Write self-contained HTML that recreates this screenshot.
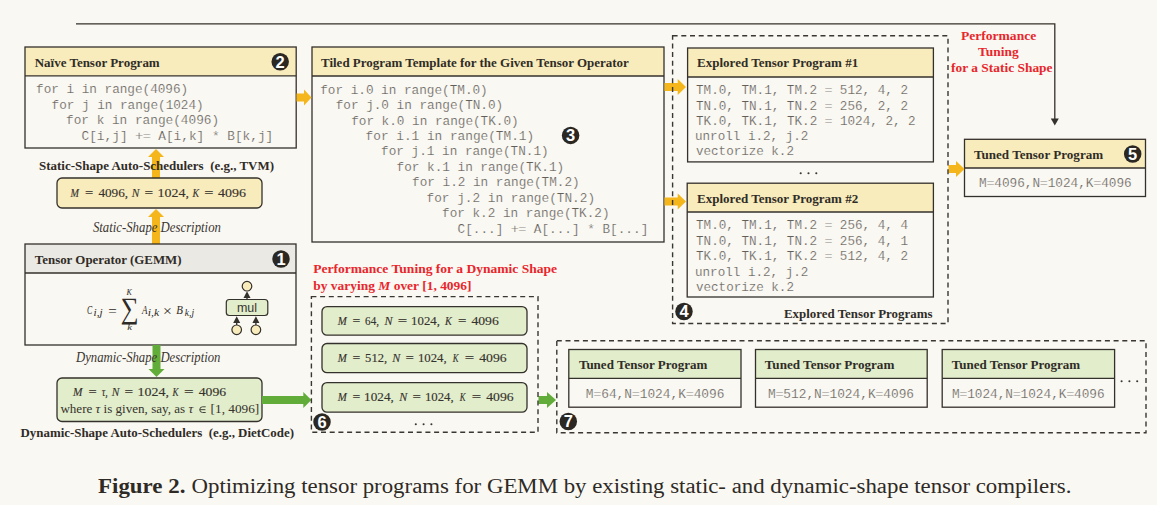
<!DOCTYPE html>
<html><head><meta charset="utf-8"><style>
html,body{margin:0;padding:0;background:#faf8f3;overflow:hidden;width:1157px;height:505px;}
svg{display:block;}
</style></head><body>
<svg width="1157" height="505" viewBox="0 0 1157 505">
<rect width="1157" height="505" fill="#faf8f3"/>
<path d="M76,23.8 H1054.8 V119.5" fill="none" stroke="#34302b" stroke-width="1.3"/>
<polygon points="1050.8,118.5 1058.8,118.5 1054.8,125.5" fill="#34302b"/>
<rect x="25" y="47" width="271.20" height="28.90" fill="#f9ecbc"/>
<rect x="25" y="75.9" width="271.20" height="72.10" fill="#faf8f3"/>
<line x1="25" y1="75.9" x2="296.2" y2="75.9" stroke="#34302b" stroke-width="1.3"/>
<rect x="25" y="47" width="271.20" height="101.00" fill="none" stroke="#34302b" stroke-width="1.3"/>
<circle cx="280.2" cy="61.7" r="8.75" fill="#2b2824"/>
<text x="280.2" y="67.60" font-family='"Liberation Sans", sans-serif' font-size="16.5" font-weight="bold" fill="#fff" text-anchor="middle">2</text>
<polygon points="152.0,178 152.0,157 148,157 156,149 164,157 160.0,157 160.0,178" fill="#f4b61a"/>
<rect x="57" y="178" width="205.00" height="30.00" rx="5" fill="#f9ecbc" stroke="#34302b" stroke-width="1.3"/>
<polygon points="152.0,244 152.0,217 148,217 156,209 164,217 160.0,217 160.0,244" fill="#f4b61a"/>
<rect x="25" y="244" width="271.00" height="29.00" fill="#ebe9e4"/>
<rect x="25" y="273" width="271.00" height="72.00" fill="#faf8f3"/>
<line x1="25" y1="273" x2="296" y2="273" stroke="#34302b" stroke-width="1.3"/>
<rect x="25" y="244" width="271.00" height="101.00" fill="none" stroke="#34302b" stroke-width="1.3"/>
<circle cx="281" cy="259" r="8.75" fill="#2b2824"/>
<text x="281" y="264.90" font-family='"Liberation Sans", sans-serif' font-size="16.5" font-weight="bold" fill="#fff" text-anchor="middle">1</text>
<circle cx="247" cy="286.2" r="4.8" fill="#f9ecbc" stroke="#34302b" stroke-width="1.2"/>
<line x1="247" y1="296" x2="247" y2="299.5" stroke="#34302b" stroke-width="1.3"/>
<polygon points="243.5,298 250.5,298 247,291.3" fill="#34302b"/>
<rect x="226.3" y="299.5" width="41.50" height="16.00" rx="3" fill="#e1edcb" stroke="#34302b" stroke-width="1.2"/>
<text x="247" y="311.7" font-family='"Liberation Sans", sans-serif' font-size="12.5" fill="#3a3631" text-anchor="middle">mul</text>
<circle cx="236.7" cy="329.8" r="4.8" fill="#f9ecbc" stroke="#34302b" stroke-width="1.2"/>
<line x1="236.7" y1="322" x2="236.7" y2="325" stroke="#34302b" stroke-width="1.3"/>
<polygon points="233.2,323 240.2,323 236.7,316.2" fill="#34302b"/>
<circle cx="255.9" cy="329.8" r="4.8" fill="#f9ecbc" stroke="#34302b" stroke-width="1.2"/>
<line x1="255.9" y1="322" x2="255.9" y2="325" stroke="#34302b" stroke-width="1.3"/>
<polygon points="252.4,323 259.4,323 255.9,316.2" fill="#34302b"/>
<polygon points="152.5,345 152.5,369 148.5,369 156.5,377 164.5,369 160.5,369 160.5,345" fill="#62ad3a"/>
<rect x="57" y="378" width="205.00" height="43.50" rx="5" fill="#e1edcb" stroke="#34302b" stroke-width="1.3"/>
<path d="M205.7,406.8 H202.6 A2.85,2.85 0 0 0 202.6,412.5 H205.7 M199.8,409.65 H205.4" fill="none" stroke="#36322d" stroke-width="0.9"/>
<polygon points="262,396.0 303.3,396.0 303.3,392 311.4,400 303.3,408 303.3,404.0 262,404.0" fill="#62ad3a"/>
<rect x="312" y="47" width="352.00" height="29.00" fill="#f9ecbc"/>
<rect x="312" y="76" width="352.00" height="166.00" fill="#faf8f3"/>
<line x1="312" y1="76" x2="664" y2="76" stroke="#34302b" stroke-width="1.3"/>
<rect x="312" y="47" width="352.00" height="195.00" fill="none" stroke="#34302b" stroke-width="1.3"/>
<circle cx="570.6" cy="135.4" r="8.75" fill="#2b2824"/>
<text x="570.6" y="141.30" font-family='"Liberation Sans", sans-serif' font-size="16.5" font-weight="bold" fill="#fff" text-anchor="middle">3</text>
<polygon points="296.5,93.5 304,93.5 304,89.5 311.5,97.5 304,105.5 304,101.5 296.5,101.5" fill="#f4b61a"/>
<rect x="687.6" y="48" width="245.80" height="29.00" fill="#f9ecbc"/>
<rect x="687.6" y="77" width="245.80" height="84.90" fill="#faf8f3"/>
<line x1="687.6" y1="77" x2="933.4" y2="77" stroke="#34302b" stroke-width="1.3"/>
<rect x="687.6" y="48" width="245.80" height="113.90" fill="none" stroke="#34302b" stroke-width="1.3"/>
<circle cx="800.70" cy="173.2" r="1.05" fill="#3a3631"/>
<circle cx="808.50" cy="173.2" r="1.05" fill="#3a3631"/>
<circle cx="816.30" cy="173.2" r="1.05" fill="#3a3631"/>
<rect x="687.2" y="183.2" width="246.20" height="28.80" fill="#f9ecbc"/>
<rect x="687.2" y="212" width="246.20" height="85.00" fill="#faf8f3"/>
<line x1="687.2" y1="212" x2="933.4" y2="212" stroke="#34302b" stroke-width="1.3"/>
<rect x="687.2" y="183.2" width="246.20" height="113.80" fill="none" stroke="#34302b" stroke-width="1.3"/>
<circle cx="684" cy="311.5" r="8.75" fill="#2b2824"/>
<text x="684" y="317.40" font-family='"Liberation Sans", sans-serif' font-size="16.5" font-weight="bold" fill="#fff" text-anchor="middle">4</text>
<polygon points="664.5,83.0 677.7,83.0 677.7,79 686,87 677.7,95 677.7,91.0 664.5,91.0" fill="#f4b61a"/>
<polygon points="664.5,197.5 677.7,197.5 677.7,193.5 686,201.5 677.7,209.5 677.7,205.5 664.5,205.5" fill="#f4b61a"/>
<rect x="964.5" y="139.3" width="181.00" height="28.70" fill="#f9ecbc"/>
<rect x="964.5" y="168" width="181.00" height="28.50" fill="#faf8f3"/>
<line x1="964.5" y1="168" x2="1145.5" y2="168" stroke="#34302b" stroke-width="1.3"/>
<rect x="964.5" y="139.3" width="181.00" height="57.20" fill="none" stroke="#34302b" stroke-width="1.3"/>
<circle cx="1132.7" cy="154" r="8.75" fill="#2b2824"/>
<text x="1132.7" y="159.90" font-family='"Liberation Sans", sans-serif' font-size="16.5" font-weight="bold" fill="#fff" text-anchor="middle">5</text>
<polygon points="948.5,164.9 956,164.9 956,160.9 964.5,168.9 956,176.9 956,172.9 948.5,172.9" fill="#f4b61a"/>
<rect x="322" y="306.6" width="205.00" height="28.60" rx="5" fill="#e1edcb" stroke="#34302b" stroke-width="1.3"/>
<rect x="322" y="343.5" width="205.00" height="29.20" rx="5" fill="#e1edcb" stroke="#34302b" stroke-width="1.3"/>
<rect x="322" y="382.6" width="205.00" height="29.60" rx="5" fill="#e1edcb" stroke="#34302b" stroke-width="1.3"/>
<circle cx="322" cy="422" r="8.75" fill="#2b2824"/>
<text x="322" y="427.90" font-family='"Liberation Sans", sans-serif' font-size="16.5" font-weight="bold" fill="#fff" text-anchor="middle">6</text>
<circle cx="415.80" cy="424.2" r="1.05" fill="#3a3631"/>
<circle cx="423.60" cy="424.2" r="1.05" fill="#3a3631"/>
<circle cx="431.40" cy="424.2" r="1.05" fill="#3a3631"/>
<polygon points="538.5,396.0 547,396.0 547,392 556,400 547,408 547,404.0 538.5,404.0" fill="#62ad3a"/>
<rect x="568.8" y="349.5" width="172.20" height="28.90" fill="#e1edcb"/>
<rect x="568.8" y="378.4" width="172.20" height="28.80" fill="#faf8f3"/>
<line x1="568.8" y1="378.4" x2="741" y2="378.4" stroke="#34302b" stroke-width="1.3"/>
<rect x="568.8" y="349.5" width="172.20" height="57.70" fill="none" stroke="#34302b" stroke-width="1.3"/>
<rect x="755.5" y="349.5" width="171.70" height="28.90" fill="#e1edcb"/>
<rect x="755.5" y="378.4" width="171.70" height="28.80" fill="#faf8f3"/>
<line x1="755.5" y1="378.4" x2="927.2" y2="378.4" stroke="#34302b" stroke-width="1.3"/>
<rect x="755.5" y="349.5" width="171.70" height="57.70" fill="none" stroke="#34302b" stroke-width="1.3"/>
<rect x="942.2" y="349.5" width="172.40" height="28.90" fill="#e1edcb"/>
<rect x="942.2" y="378.4" width="172.40" height="28.80" fill="#faf8f3"/>
<line x1="942.2" y1="378.4" x2="1114.6" y2="378.4" stroke="#34302b" stroke-width="1.3"/>
<rect x="942.2" y="349.5" width="172.40" height="57.70" fill="none" stroke="#34302b" stroke-width="1.3"/>
<circle cx="568.3" cy="421.5" r="8.75" fill="#2b2824"/>
<text x="568.3" y="427.40" font-family='"Liberation Sans", sans-serif' font-size="16.5" font-weight="bold" fill="#fff" text-anchor="middle">7</text>
<circle cx="1121.60" cy="381.3" r="1.05" fill="#3a3631"/>
<circle cx="1129.40" cy="381.3" r="1.05" fill="#3a3631"/>
<circle cx="1137.20" cy="381.3" r="1.05" fill="#3a3631"/>
<rect x="672.6" y="35.8" width="275.40" height="287.70" fill="none" stroke="#3a3631" stroke-width="1.4" stroke-dasharray="5 3.7"/>
<rect x="311.4" y="296.6" width="226.60" height="135.60" fill="none" stroke="#3a3631" stroke-width="1.4" stroke-dasharray="5 3.7"/>
<rect x="556.8" y="340.8" width="589.20" height="92.00" fill="none" stroke="#3a3631" stroke-width="1.4" stroke-dasharray="5 3.7"/>
<text id="naive_t" x="34.70" y="66.80" font-family='"Liberation Serif", serif' font-size="13.4" font-weight="bold" font-style="normal" fill="#302c27" textLength="125.01" lengthAdjust="spacingAndGlyphs">Naïve Tensor Program</text>
<text id="naive_c0" x="36.10" y="93.20" font-family='"Liberation Mono", monospace' font-size="12.7" font-weight="normal" font-style="normal" fill="#625e58" stroke="#faf8f3" stroke-width="0.2" textLength="152.08" lengthAdjust="spacingAndGlyphs">for&#160;i&#160;in&#160;range(4096)</text>
<text id="naive_c1" x="51.58" y="108.65" font-family='"Liberation Mono", monospace' font-size="12.7" font-weight="normal" font-style="normal" fill="#625e58" stroke="#faf8f3" stroke-width="0.2" textLength="152.08" lengthAdjust="spacingAndGlyphs">for&#160;j&#160;in&#160;range(1024)</text>
<text id="naive_c2" x="66.06" y="124.10" font-family='"Liberation Mono", monospace' font-size="12.7" font-weight="normal" font-style="normal" fill="#625e58" stroke="#faf8f3" stroke-width="0.2" textLength="153.08" lengthAdjust="spacingAndGlyphs">for&#160;k&#160;in&#160;range(4096)</text>
<text id="naive_c3" x="81.54" y="139.55" font-family='"Liberation Mono", monospace' font-size="12.7" font-weight="normal" font-style="normal" fill="#625e58" stroke="#faf8f3" stroke-width="0.2" textLength="191.74" lengthAdjust="spacingAndGlyphs">C[i,j]&#160;+=&#160;A[i,k]&#160;*&#160;B[k,j]</text>
<text id="ss_sched" x="39.00" y="169.50" font-family='"Liberation Serif", serif' font-size="13.4" font-weight="bold" font-style="normal" fill="#302c27" textLength="235.03" lengthAdjust="spacingAndGlyphs">Static-Shape Auto-Schedulers&#160; (e.g., TVM)</text>
<text id="m4096_0" x="70.60" y="196.80" font-family='"Liberation Serif", serif' font-size="13.5" font-weight="normal" font-style="italic" fill="#36322d" stroke="#36322d" stroke-width="0.15" textLength="8.45" lengthAdjust="spacingAndGlyphs">M</text>
<text id="m4096_1" x="85.00" y="196.80" font-family='"Liberation Serif", serif' font-size="13.5" font-weight="normal" font-style="normal" fill="#36322d" stroke="#36322d" stroke-width="0.15" textLength="8.22" lengthAdjust="spacingAndGlyphs">=</text>
<text id="m4096_2" x="98.40" y="196.80" font-family='"Liberation Serif", serif' font-size="13.5" font-weight="normal" font-style="normal" fill="#36322d" stroke="#36322d" stroke-width="0.15" textLength="29.77" lengthAdjust="spacingAndGlyphs">4096,</text>
<text id="m4096_3" x="131.80" y="196.80" font-family='"Liberation Serif", serif' font-size="13.5" font-weight="normal" font-style="italic" fill="#36322d" stroke="#36322d" stroke-width="0.15" textLength="7.62" lengthAdjust="spacingAndGlyphs">N</text>
<text id="m4096_4" x="144.60" y="196.80" font-family='"Liberation Serif", serif' font-size="13.5" font-weight="normal" font-style="normal" fill="#36322d" stroke="#36322d" stroke-width="0.15" textLength="8.62" lengthAdjust="spacingAndGlyphs">=</text>
<text id="m4096_5" x="157.50" y="196.80" font-family='"Liberation Serif", serif' font-size="13.5" font-weight="normal" font-style="normal" fill="#36322d" stroke="#36322d" stroke-width="0.15" textLength="31.38" lengthAdjust="spacingAndGlyphs">1024,</text>
<text id="m4096_6" x="192.60" y="196.80" font-family='"Liberation Serif", serif' font-size="13.5" font-weight="normal" font-style="italic" fill="#36322d" stroke="#36322d" stroke-width="0.15" textLength="6.62" lengthAdjust="spacingAndGlyphs">K</text>
<text id="m4096_7" x="204.20" y="196.80" font-family='"Liberation Serif", serif' font-size="13.5" font-weight="normal" font-style="normal" fill="#36322d" stroke="#36322d" stroke-width="0.15" textLength="9.22" lengthAdjust="spacingAndGlyphs">=</text>
<text id="m4096_8" x="218.00" y="196.80" font-family='"Liberation Serif", serif' font-size="13.5" font-weight="normal" font-style="normal" fill="#36322d" stroke="#36322d" stroke-width="0.15" textLength="28.00" lengthAdjust="spacingAndGlyphs">4096</text>
<text id="ss_desc" x="92.90" y="232.00" font-family='"Liberation Serif", serif' font-size="13.7" font-weight="normal" font-style="italic" fill="#3a3631" textLength="128.03" lengthAdjust="spacingAndGlyphs">Static-Shape Description</text>
<text id="op_t" x="34.80" y="264.00" font-family='"Liberation Serif", serif' font-size="13.4" font-weight="bold" font-style="normal" fill="#302c27" textLength="146.82" lengthAdjust="spacingAndGlyphs">Tensor Operator (GEMM)</text>
<text id="f_C" x="87.10" y="313.50" font-family='"Liberation Serif", serif' font-size="13.5" font-weight="normal" font-style="italic" fill="#2e2a25" textLength="5.22" lengthAdjust="spacingAndGlyphs">C</text>
<text id="f_ij" x="93.60" y="316.00" font-family='"Liberation Serif", serif' font-size="9.5" font-weight="normal" font-style="italic" fill="#2e2a25" textLength="9.06" lengthAdjust="spacingAndGlyphs">i,j</text>
<text id="f_eq" x="108.20" y="316.30" font-family='"Liberation Serif", serif' font-size="14" font-weight="normal" font-style="normal" fill="#2e2a25" textLength="8.51" lengthAdjust="spacingAndGlyphs">=</text>
<text id="f_sum" x="120.50" y="318.20" font-family='"Liberation Serif", serif' font-size="29.5" font-weight="normal" font-style="normal" fill="#2e2a25" textLength="18.03" lengthAdjust="spacingAndGlyphs">∑</text>
<text id="f_K" x="126.50" y="295.00" font-family='"Liberation Serif", serif' font-size="8" font-weight="normal" font-style="italic" fill="#2e2a25" textLength="5.34" lengthAdjust="spacingAndGlyphs">K</text>
<text id="f_k" x="127.30" y="329.50" font-family='"Liberation Serif", serif' font-size="8" font-weight="normal" font-style="italic" fill="#2e2a25" textLength="4.76" lengthAdjust="spacingAndGlyphs">k</text>
<text id="f_A" x="141.90" y="313.50" font-family='"Liberation Serif", serif' font-size="13.5" font-weight="normal" font-style="italic" fill="#2e2a25" textLength="5.45" lengthAdjust="spacingAndGlyphs">A</text>
<text id="f_ik" x="147.80" y="316.00" font-family='"Liberation Serif", serif' font-size="9.5" font-weight="normal" font-style="italic" fill="#2e2a25" textLength="11.43" lengthAdjust="spacingAndGlyphs">i,k</text>
<text id="f_x" x="163.10" y="315.50" font-family='"Liberation Serif", serif' font-size="15" font-weight="normal" font-style="normal" fill="#2e2a25" textLength="8.87" lengthAdjust="spacingAndGlyphs">×</text>
<text id="f_B" x="176.20" y="313.50" font-family='"Liberation Serif", serif' font-size="13.5" font-weight="normal" font-style="italic" fill="#2e2a25" textLength="6.65" lengthAdjust="spacingAndGlyphs">B</text>
<text id="f_kj" x="184.80" y="316.00" font-family='"Liberation Serif", serif' font-size="9.5" font-weight="normal" font-style="italic" fill="#2e2a25" textLength="9.23" lengthAdjust="spacingAndGlyphs">k,j</text>
<text id="ds_desc" x="76.00" y="362.00" font-family='"Liberation Serif", serif' font-size="13.7" font-weight="normal" font-style="italic" fill="#3a3631" textLength="144.47" lengthAdjust="spacingAndGlyphs">Dynamic-Shape Description</text>
<text id="mtau_0" x="73.00" y="395.90" font-family='"Liberation Serif", serif' font-size="13.5" font-weight="normal" font-style="italic" fill="#36322d" stroke="#36322d" stroke-width="0.15" textLength="9.45" lengthAdjust="spacingAndGlyphs">M</text>
<text id="mtau_1" x="88.40" y="395.90" font-family='"Liberation Serif", serif' font-size="13.5" font-weight="normal" font-style="normal" fill="#36322d" stroke="#36322d" stroke-width="0.15" textLength="8.22" lengthAdjust="spacingAndGlyphs">=</text>
<text id="mtau_2" x="101.80" y="395.90" font-family='"Liberation Serif", serif' font-size="13.5" font-weight="normal" font-style="italic" fill="#36322d" stroke="#36322d" stroke-width="0.15" textLength="6.01" lengthAdjust="spacingAndGlyphs">τ,</text>
<text id="mtau_3" x="111.80" y="395.90" font-family='"Liberation Serif", serif' font-size="13.5" font-weight="normal" font-style="italic" fill="#36322d" stroke="#36322d" stroke-width="0.15" textLength="7.62" lengthAdjust="spacingAndGlyphs">N</text>
<text id="mtau_4" x="124.60" y="395.90" font-family='"Liberation Serif", serif' font-size="13.5" font-weight="normal" font-style="normal" fill="#36322d" stroke="#36322d" stroke-width="0.15" textLength="8.63" lengthAdjust="spacingAndGlyphs">=</text>
<text id="mtau_5" x="137.50" y="395.90" font-family='"Liberation Serif", serif' font-size="13.5" font-weight="normal" font-style="normal" fill="#36322d" stroke="#36322d" stroke-width="0.15" textLength="31.38" lengthAdjust="spacingAndGlyphs">1024,</text>
<text id="mtau_6" x="172.60" y="395.90" font-family='"Liberation Serif", serif' font-size="13.5" font-weight="normal" font-style="italic" fill="#36322d" stroke="#36322d" stroke-width="0.15" textLength="6.02" lengthAdjust="spacingAndGlyphs">K</text>
<text id="mtau_7" x="183.90" y="395.90" font-family='"Liberation Serif", serif' font-size="13.5" font-weight="normal" font-style="normal" fill="#36322d" stroke="#36322d" stroke-width="0.15" textLength="9.62" lengthAdjust="spacingAndGlyphs">=</text>
<text id="mtau_8" x="198.70" y="395.90" font-family='"Liberation Serif", serif' font-size="13.5" font-weight="normal" font-style="normal" fill="#36322d" stroke="#36322d" stroke-width="0.15" textLength="27.40" lengthAdjust="spacingAndGlyphs">4096</text>
<text id="where" x="60.40" y="412.80" font-family='"Liberation Serif", serif' font-size="13.5" font-weight="normal" font-style="normal" fill="#36322d" textLength="132.75" lengthAdjust="spacingAndGlyphs">where <tspan font-style='italic'>τ</tspan> is given, say, as <tspan font-style='italic'>τ</tspan></text>
<text id="where2" x="210.60" y="412.80" font-family='"Liberation Serif", serif' font-size="13.5" font-weight="normal" font-style="normal" fill="#36322d" textLength="48.70" lengthAdjust="spacingAndGlyphs">[1, 4096]</text>
<text id="ds_sched" x="20.50" y="436.90" font-family='"Liberation Serif", serif' font-size="13.4" font-weight="bold" font-style="normal" fill="#302c27" textLength="273.49" lengthAdjust="spacingAndGlyphs">Dynamic-Shape Auto-Schedulers&#160; (e.g., DietCode)</text>
<text id="tiled_t" x="321.00" y="66.70" font-family='"Liberation Serif", serif' font-size="13.4" font-weight="bold" font-style="normal" fill="#302c27" textLength="307.83" lengthAdjust="spacingAndGlyphs">Tiled Program Template for the Given Tensor Operator</text>
<text id="tiled_c0" x="320.20" y="93.60" font-family='"Liberation Mono", monospace' font-size="12.7" font-weight="normal" font-style="normal" fill="#625e58" stroke="#faf8f3" stroke-width="0.2" textLength="167.56" lengthAdjust="spacingAndGlyphs">for&#160;i.0&#160;in&#160;range(TM.0)</text>
<text id="tiled_c1" x="335.68" y="109.05" font-family='"Liberation Mono", monospace' font-size="12.7" font-weight="normal" font-style="normal" fill="#625e58" stroke="#faf8f3" stroke-width="0.2" textLength="167.56" lengthAdjust="spacingAndGlyphs">for&#160;j.0&#160;in&#160;range(TN.0)</text>
<text id="tiled_c2" x="351.16" y="124.50" font-family='"Liberation Mono", monospace' font-size="12.7" font-weight="normal" font-style="normal" fill="#625e58" stroke="#faf8f3" stroke-width="0.2" textLength="167.56" lengthAdjust="spacingAndGlyphs">for&#160;k.0&#160;in&#160;range(TK.0)</text>
<text id="tiled_c3" x="365.64" y="139.95" font-family='"Liberation Mono", monospace' font-size="12.7" font-weight="normal" font-style="normal" fill="#625e58" stroke="#faf8f3" stroke-width="0.2" textLength="168.56" lengthAdjust="spacingAndGlyphs">for&#160;i.1&#160;in&#160;range(TM.1)</text>
<text id="tiled_c4" x="381.12" y="155.40" font-family='"Liberation Mono", monospace' font-size="12.7" font-weight="normal" font-style="normal" fill="#625e58" stroke="#faf8f3" stroke-width="0.2" textLength="167.56" lengthAdjust="spacingAndGlyphs">for&#160;j.1&#160;in&#160;range(TN.1)</text>
<text id="tiled_c5" x="396.60" y="170.85" font-family='"Liberation Mono", monospace' font-size="12.7" font-weight="normal" font-style="normal" fill="#625e58" stroke="#faf8f3" stroke-width="0.2" textLength="167.56" lengthAdjust="spacingAndGlyphs">for&#160;k.1&#160;in&#160;range(TK.1)</text>
<text id="tiled_c6" x="412.08" y="186.30" font-family='"Liberation Mono", monospace' font-size="12.7" font-weight="normal" font-style="normal" fill="#625e58" stroke="#faf8f3" stroke-width="0.2" textLength="167.56" lengthAdjust="spacingAndGlyphs">for&#160;i.2&#160;in&#160;range(TM.2)</text>
<text id="tiled_c7" x="426.56" y="201.75" font-family='"Liberation Mono", monospace' font-size="12.7" font-weight="normal" font-style="normal" fill="#625e58" stroke="#faf8f3" stroke-width="0.2" textLength="168.56" lengthAdjust="spacingAndGlyphs">for&#160;j.2&#160;in&#160;range(TN.2)</text>
<text id="tiled_c8" x="442.04" y="217.20" font-family='"Liberation Mono", monospace' font-size="12.7" font-weight="normal" font-style="normal" fill="#625e58" stroke="#faf8f3" stroke-width="0.2" textLength="167.56" lengthAdjust="spacingAndGlyphs">for&#160;k.2&#160;in&#160;range(TK.2)</text>
<text id="tiled_c9" x="457.52" y="232.65" font-family='"Liberation Mono", monospace' font-size="12.7" font-weight="normal" font-style="normal" fill="#625e58" stroke="#faf8f3" stroke-width="0.2" textLength="190.74" lengthAdjust="spacingAndGlyphs">C[...]&#160;+=&#160;A[...]&#160;*&#160;B[...]</text>
<text id="ex1_t" x="697.00" y="67.40" font-family='"Liberation Serif", serif' font-size="13.4" font-weight="bold" font-style="normal" fill="#302c27" textLength="161.22" lengthAdjust="spacingAndGlyphs">Explored Tensor Program #1</text>
<text id="ex1_c0" x="696.00" y="94.20" font-family='"Liberation Mono", monospace' font-size="12.7" font-weight="normal" font-style="normal" fill="#625e58" stroke="#faf8f3" stroke-width="0.2" textLength="211.95" lengthAdjust="spacingAndGlyphs">TM.0,&#160;TM.1,&#160;TM.2&#160;=&#160;512,&#160;4,&#160;2</text>
<text id="ex1_c1" x="696.00" y="109.50" font-family='"Liberation Mono", monospace' font-size="12.7" font-weight="normal" font-style="normal" fill="#625e58" stroke="#faf8f3" stroke-width="0.2" textLength="211.95" lengthAdjust="spacingAndGlyphs">TN.0,&#160;TN.1,&#160;TN.2&#160;=&#160;256,&#160;2,&#160;2</text>
<text id="ex1_c2" x="696.00" y="124.80" font-family='"Liberation Mono", monospace' font-size="12.7" font-weight="normal" font-style="normal" fill="#625e58" stroke="#faf8f3" stroke-width="0.2" textLength="219.69" lengthAdjust="spacingAndGlyphs">TK.0,&#160;TK.1,&#160;TK.2&#160;=&#160;1024,&#160;2,&#160;2</text>
<text id="ex1_c3" x="695.00" y="140.10" font-family='"Liberation Mono", monospace' font-size="12.7" font-weight="normal" font-style="normal" fill="#625e58" stroke="#faf8f3" stroke-width="0.2" textLength="113.42" lengthAdjust="spacingAndGlyphs">unroll&#160;i.2,&#160;j.2</text>
<text id="ex1_c4" x="696.00" y="155.40" font-family='"Liberation Mono", monospace' font-size="12.7" font-weight="normal" font-style="normal" fill="#625e58" stroke="#faf8f3" stroke-width="0.2" textLength="97.94" lengthAdjust="spacingAndGlyphs">vectorize&#160;k.2</text>
<text id="ex2_t" x="697.00" y="202.50" font-family='"Liberation Serif", serif' font-size="13.4" font-weight="bold" font-style="normal" fill="#302c27" textLength="161.22" lengthAdjust="spacingAndGlyphs">Explored Tensor Program #2</text>
<text id="ex2_c0" x="696.00" y="229.20" font-family='"Liberation Mono", monospace' font-size="12.7" font-weight="normal" font-style="normal" fill="#625e58" stroke="#faf8f3" stroke-width="0.2" textLength="211.95" lengthAdjust="spacingAndGlyphs">TM.0,&#160;TM.1,&#160;TM.2&#160;=&#160;256,&#160;4,&#160;4</text>
<text id="ex2_c1" x="696.00" y="244.70" font-family='"Liberation Mono", monospace' font-size="12.7" font-weight="normal" font-style="normal" fill="#625e58" stroke="#faf8f3" stroke-width="0.2" textLength="211.95" lengthAdjust="spacingAndGlyphs">TN.0,&#160;TN.1,&#160;TN.2&#160;=&#160;256,&#160;4,&#160;1</text>
<text id="ex2_c2" x="696.00" y="260.20" font-family='"Liberation Mono", monospace' font-size="12.7" font-weight="normal" font-style="normal" fill="#625e58" stroke="#faf8f3" stroke-width="0.2" textLength="211.95" lengthAdjust="spacingAndGlyphs">TK.0,&#160;TK.1,&#160;TK.2&#160;=&#160;512,&#160;4,&#160;2</text>
<text id="ex2_c3" x="695.00" y="275.70" font-family='"Liberation Mono", monospace' font-size="12.7" font-weight="normal" font-style="normal" fill="#625e58" stroke="#faf8f3" stroke-width="0.2" textLength="113.42" lengthAdjust="spacingAndGlyphs">unroll&#160;i.2,&#160;j.2</text>
<text id="ex2_c4" x="696.00" y="291.20" font-family='"Liberation Mono", monospace' font-size="12.7" font-weight="normal" font-style="normal" fill="#625e58" stroke="#faf8f3" stroke-width="0.2" textLength="97.94" lengthAdjust="spacingAndGlyphs">vectorize&#160;k.2</text>
<text id="ex_lbl" x="784.00" y="317.90" font-family='"Liberation Serif", serif' font-size="13.4" font-weight="bold" font-style="normal" fill="#302c27" textLength="148.44" lengthAdjust="spacingAndGlyphs">Explored Tensor Programs</text>
<text id="red1" x="961.00" y="39.60" font-family='"Liberation Serif", serif' font-size="13.4" font-weight="bold" font-style="normal" fill="#e8262c" textLength="75.20" lengthAdjust="spacingAndGlyphs">Performance</text>
<text id="red2" x="978.10" y="55.60" font-family='"Liberation Serif", serif' font-size="13.4" font-weight="bold" font-style="normal" fill="#e8262c" textLength="40.56" lengthAdjust="spacingAndGlyphs">Tuning</text>
<text id="red3" x="951.00" y="72.00" font-family='"Liberation Serif", serif' font-size="13.4" font-weight="bold" font-style="normal" fill="#e8262c" textLength="101.55" lengthAdjust="spacingAndGlyphs">for a Static Shape</text>
<text id="tuned5_t" x="974.00" y="158.90" font-family='"Liberation Serif", serif' font-size="13.4" font-weight="bold" font-style="normal" fill="#302c27" textLength="129.14" lengthAdjust="spacingAndGlyphs">Tuned Tensor Program</text>
<text id="tuned5_c" x="979.00" y="187.00" font-family='"Liberation Mono", monospace' font-size="12.7" font-weight="normal" font-style="normal" fill="#625e58" stroke="#faf8f3" stroke-width="0.2" textLength="152.68" lengthAdjust="spacingAndGlyphs">M=4096,N=1024,K=4096</text>
<text id="redd1" x="313.20" y="273.00" font-family='"Liberation Serif", serif' font-size="13.4" font-weight="bold" font-style="normal" fill="#e8262c" textLength="243.92" lengthAdjust="spacingAndGlyphs">Performance Tuning for a Dynamic Shape</text>
<text id="redd2" x="313.20" y="289.60" font-family='"Liberation Serif", serif' font-size="13.4" font-weight="bold" font-style="normal" fill="#e8262c" textLength="158.37" lengthAdjust="spacingAndGlyphs">by varying <tspan font-style='italic'>M</tspan> over [1, 4096]</text>
<text id="gm0_0" x="337.80" y="324.90" font-family='"Liberation Serif", serif' font-size="13.5" font-weight="normal" font-style="italic" fill="#36322d" stroke="#36322d" stroke-width="0.15" textLength="9.05" lengthAdjust="spacingAndGlyphs">M</text>
<text id="gm0_1" x="352.40" y="324.90" font-family='"Liberation Serif", serif' font-size="13.5" font-weight="normal" font-style="normal" fill="#36322d" stroke="#36322d" stroke-width="0.15" textLength="7.82" lengthAdjust="spacingAndGlyphs">=</text>
<text id="gm0_2" x="365.10" y="324.90" font-family='"Liberation Serif", serif' font-size="13.5" font-weight="normal" font-style="normal" fill="#36322d" stroke="#36322d" stroke-width="0.15" textLength="13.88" lengthAdjust="spacingAndGlyphs">64,</text>
<text id="gm0_3" x="384.40" y="324.90" font-family='"Liberation Serif", serif' font-size="13.5" font-weight="normal" font-style="italic" fill="#36322d" stroke="#36322d" stroke-width="0.15" textLength="8.02" lengthAdjust="spacingAndGlyphs">N</text>
<text id="gm0_4" x="397.70" y="324.90" font-family='"Liberation Serif", serif' font-size="13.5" font-weight="normal" font-style="normal" fill="#36322d" stroke="#36322d" stroke-width="0.15" textLength="9.42" lengthAdjust="spacingAndGlyphs">=</text>
<text id="gm0_5" x="411.10" y="324.90" font-family='"Liberation Serif", serif' font-size="13.5" font-weight="normal" font-style="normal" fill="#36322d" stroke="#36322d" stroke-width="0.15" textLength="28.77" lengthAdjust="spacingAndGlyphs">1024,</text>
<text id="gm0_6" x="445.00" y="324.90" font-family='"Liberation Serif", serif' font-size="13.5" font-weight="normal" font-style="italic" fill="#36322d" stroke="#36322d" stroke-width="0.15" textLength="6.82" lengthAdjust="spacingAndGlyphs">K</text>
<text id="gm0_7" x="458.00" y="324.90" font-family='"Liberation Serif", serif' font-size="13.5" font-weight="normal" font-style="normal" fill="#36322d" stroke="#36322d" stroke-width="0.15" textLength="8.43" lengthAdjust="spacingAndGlyphs">=</text>
<text id="gm0_8" x="471.40" y="324.90" font-family='"Liberation Serif", serif' font-size="13.5" font-weight="normal" font-style="normal" fill="#36322d" stroke="#36322d" stroke-width="0.15" textLength="27.40" lengthAdjust="spacingAndGlyphs">4096</text>
<text id="gm1_0" x="337.80" y="361.80" font-family='"Liberation Serif", serif' font-size="13.5" font-weight="normal" font-style="italic" fill="#36322d" stroke="#36322d" stroke-width="0.15" textLength="9.05" lengthAdjust="spacingAndGlyphs">M</text>
<text id="gm1_1" x="352.40" y="361.80" font-family='"Liberation Serif", serif' font-size="13.5" font-weight="normal" font-style="normal" fill="#36322d" stroke="#36322d" stroke-width="0.15" textLength="7.82" lengthAdjust="spacingAndGlyphs">=</text>
<text id="gm1_2" x="365.10" y="361.80" font-family='"Liberation Serif", serif' font-size="13.5" font-weight="normal" font-style="normal" fill="#36322d" stroke="#36322d" stroke-width="0.15" textLength="22.02" lengthAdjust="spacingAndGlyphs">512,</text>
<text id="gm1_3" x="392.20" y="361.80" font-family='"Liberation Serif", serif' font-size="13.5" font-weight="normal" font-style="italic" fill="#36322d" stroke="#36322d" stroke-width="0.15" textLength="8.02" lengthAdjust="spacingAndGlyphs">N</text>
<text id="gm1_4" x="405.50" y="361.80" font-family='"Liberation Serif", serif' font-size="13.5" font-weight="normal" font-style="normal" fill="#36322d" stroke="#36322d" stroke-width="0.15" textLength="8.42" lengthAdjust="spacingAndGlyphs">=</text>
<text id="gm1_5" x="417.90" y="361.80" font-family='"Liberation Serif", serif' font-size="13.5" font-weight="normal" font-style="normal" fill="#36322d" stroke="#36322d" stroke-width="0.15" textLength="28.77" lengthAdjust="spacingAndGlyphs">1024,</text>
<text id="gm1_6" x="452.80" y="361.80" font-family='"Liberation Serif", serif' font-size="13.5" font-weight="normal" font-style="italic" fill="#36322d" stroke="#36322d" stroke-width="0.15" textLength="5.82" lengthAdjust="spacingAndGlyphs">K</text>
<text id="gm1_7" x="464.80" y="361.80" font-family='"Liberation Serif", serif' font-size="13.5" font-weight="normal" font-style="normal" fill="#36322d" stroke="#36322d" stroke-width="0.15" textLength="9.43" lengthAdjust="spacingAndGlyphs">=</text>
<text id="gm1_8" x="479.20" y="361.80" font-family='"Liberation Serif", serif' font-size="13.5" font-weight="normal" font-style="normal" fill="#36322d" stroke="#36322d" stroke-width="0.15" textLength="27.40" lengthAdjust="spacingAndGlyphs">4096</text>
<text id="gm2_0" x="337.80" y="400.90" font-family='"Liberation Serif", serif' font-size="13.5" font-weight="normal" font-style="italic" fill="#36322d" stroke="#36322d" stroke-width="0.15" textLength="9.05" lengthAdjust="spacingAndGlyphs">M</text>
<text id="gm2_1" x="352.40" y="400.90" font-family='"Liberation Serif", serif' font-size="13.5" font-weight="normal" font-style="normal" fill="#36322d" stroke="#36322d" stroke-width="0.15" textLength="7.82" lengthAdjust="spacingAndGlyphs">=</text>
<text id="gm2_2" x="364.10" y="400.90" font-family='"Liberation Serif", serif' font-size="13.5" font-weight="normal" font-style="normal" fill="#36322d" stroke="#36322d" stroke-width="0.15" textLength="29.77" lengthAdjust="spacingAndGlyphs">1024,</text>
<text id="gm2_3" x="399.20" y="400.90" font-family='"Liberation Serif", serif' font-size="13.5" font-weight="normal" font-style="italic" fill="#36322d" stroke="#36322d" stroke-width="0.15" textLength="8.02" lengthAdjust="spacingAndGlyphs">N</text>
<text id="gm2_4" x="412.50" y="400.90" font-family='"Liberation Serif", serif' font-size="13.5" font-weight="normal" font-style="normal" fill="#36322d" stroke="#36322d" stroke-width="0.15" textLength="8.42" lengthAdjust="spacingAndGlyphs">=</text>
<text id="gm2_5" x="424.90" y="400.90" font-family='"Liberation Serif", serif' font-size="13.5" font-weight="normal" font-style="normal" fill="#36322d" stroke="#36322d" stroke-width="0.15" textLength="28.77" lengthAdjust="spacingAndGlyphs">1024,</text>
<text id="gm2_6" x="459.80" y="400.90" font-family='"Liberation Serif", serif' font-size="13.5" font-weight="normal" font-style="italic" fill="#36322d" stroke="#36322d" stroke-width="0.15" textLength="5.82" lengthAdjust="spacingAndGlyphs">K</text>
<text id="gm2_7" x="471.80" y="400.90" font-family='"Liberation Serif", serif' font-size="13.5" font-weight="normal" font-style="normal" fill="#36322d" stroke="#36322d" stroke-width="0.15" textLength="9.43" lengthAdjust="spacingAndGlyphs">=</text>
<text id="gm2_8" x="486.20" y="400.90" font-family='"Liberation Serif", serif' font-size="13.5" font-weight="normal" font-style="normal" fill="#36322d" stroke="#36322d" stroke-width="0.15" textLength="27.40" lengthAdjust="spacingAndGlyphs">4096</text>
<text id="tt0_t" x="578.90" y="369.20" font-family='"Liberation Serif", serif' font-size="13.4" font-weight="bold" font-style="normal" fill="#302c27" textLength="128.54" lengthAdjust="spacingAndGlyphs">Tuned Tensor Program</text>
<text id="tt0_c" x="585.80" y="397.50" font-family='"Liberation Mono", monospace' font-size="12.7" font-weight="normal" font-style="normal" fill="#625e58" stroke="#faf8f3" stroke-width="0.2" textLength="138.66" lengthAdjust="spacingAndGlyphs">M=64,N=1024,K=4096</text>
<text id="tt1_t" x="764.80" y="369.20" font-family='"Liberation Serif", serif' font-size="13.4" font-weight="bold" font-style="normal" fill="#302c27" textLength="129.54" lengthAdjust="spacingAndGlyphs">Tuned Tensor Program</text>
<text id="tt1_c" x="768.00" y="397.50" font-family='"Liberation Mono", monospace' font-size="12.7" font-weight="normal" font-style="normal" fill="#625e58" stroke="#faf8f3" stroke-width="0.2" textLength="146.07" lengthAdjust="spacingAndGlyphs">M=512,N=1024,K=4096</text>
<text id="tt2_t" x="951.70" y="369.20" font-family='"Liberation Serif", serif' font-size="13.4" font-weight="bold" font-style="normal" fill="#302c27" textLength="128.54" lengthAdjust="spacingAndGlyphs">Tuned Tensor Program</text>
<text id="tt2_c" x="951.90" y="397.50" font-family='"Liberation Mono", monospace' font-size="12.7" font-weight="normal" font-style="normal" fill="#625e58" stroke="#faf8f3" stroke-width="0.2" textLength="152.68" lengthAdjust="spacingAndGlyphs">M=1024,N=1024,K=4096</text>
<text id="cap1" x="98.10" y="492.80" font-family='"Liberation Serif", serif' font-size="20" font-weight="bold" font-style="normal" fill="#2e2a25" textLength="87.30" lengthAdjust="spacingAndGlyphs">Figure 2.</text>
<text id="cap2" x="191.50" y="492.80" font-family='"Liberation Serif", serif' font-size="20" font-weight="normal" font-style="normal" fill="#2e2a25" textLength="879.95" lengthAdjust="spacingAndGlyphs">Optimizing tensor programs for GEMM by existing static- and dynamic-shape tensor compilers.</text>
</svg>
</body></html>
